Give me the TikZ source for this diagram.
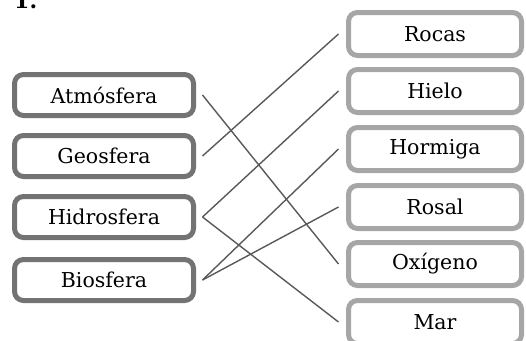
\documentclass[tikz,border=0pt]{standalone}
\usepackage{fontspec}
\setmainfont{DejaVu Serif}
\usepackage{tikz}
\usepackage{amsmath}
\begin{document}
\begin{tikzpicture}[x=1pt,y=-1pt,
    izq/.style={draw=black!55, line width=5pt, rounded corners=9pt,
      minimum width=179pt, minimum height=41pt, inner sep=0pt,
      outer sep=9pt, font=\fontsize{20.5}{23}\selectfont},
    der/.style={draw=black!35, line width=5pt, rounded corners=9pt,
      minimum width=173pt, minimum height=43pt, inner sep=0pt,
      outer sep=10pt, font=\fontsize{20.5}{23}\selectfont},
    une/.style={draw=black!65, line width=1.4pt}]
      \useasboundingbox (0,0) rectangle (526,340);
      \node [anchor=base west, inner sep=0pt, font=\fontsize{22}{24}\selectfont\bfseries] (num) at (14,9) {1.};

      \node [izq] (atm) at (104, 95) {Atmósfera};
      \node [izq] (geo) at (104, 156) {Geosfera};
      \node [izq] (hid) at (104, 217) {Hidrosfera};
      \node [izq] (bio) at (104, 280) {Biosfera};

      \node [der] (roc) at (435, 34) {Rocas};
      \node [der] (hie) at (435, 91) {Hielo};
      \node [der] (hor) at (435, 149) {Hormiga};
      \node [der] (ros) at (435, 207) {Rosal};
      \node [der] (oxi) at (435, 264) {Oxígeno};
      \node [der] (mar) at (435, 322) {Mar};

      \draw [une] (atm.east) -- (oxi.west);
      \draw [une] (geo.east) -- (roc.west);
      \draw [une] (hid.east) -- (hie.west);
      \draw [une] (hid.east) -- (mar.west);
      \draw [une] (bio.east) -- (hor.west);
      \draw [une] (bio.east) -- (ros.west);
\end{tikzpicture}
\end{document}
